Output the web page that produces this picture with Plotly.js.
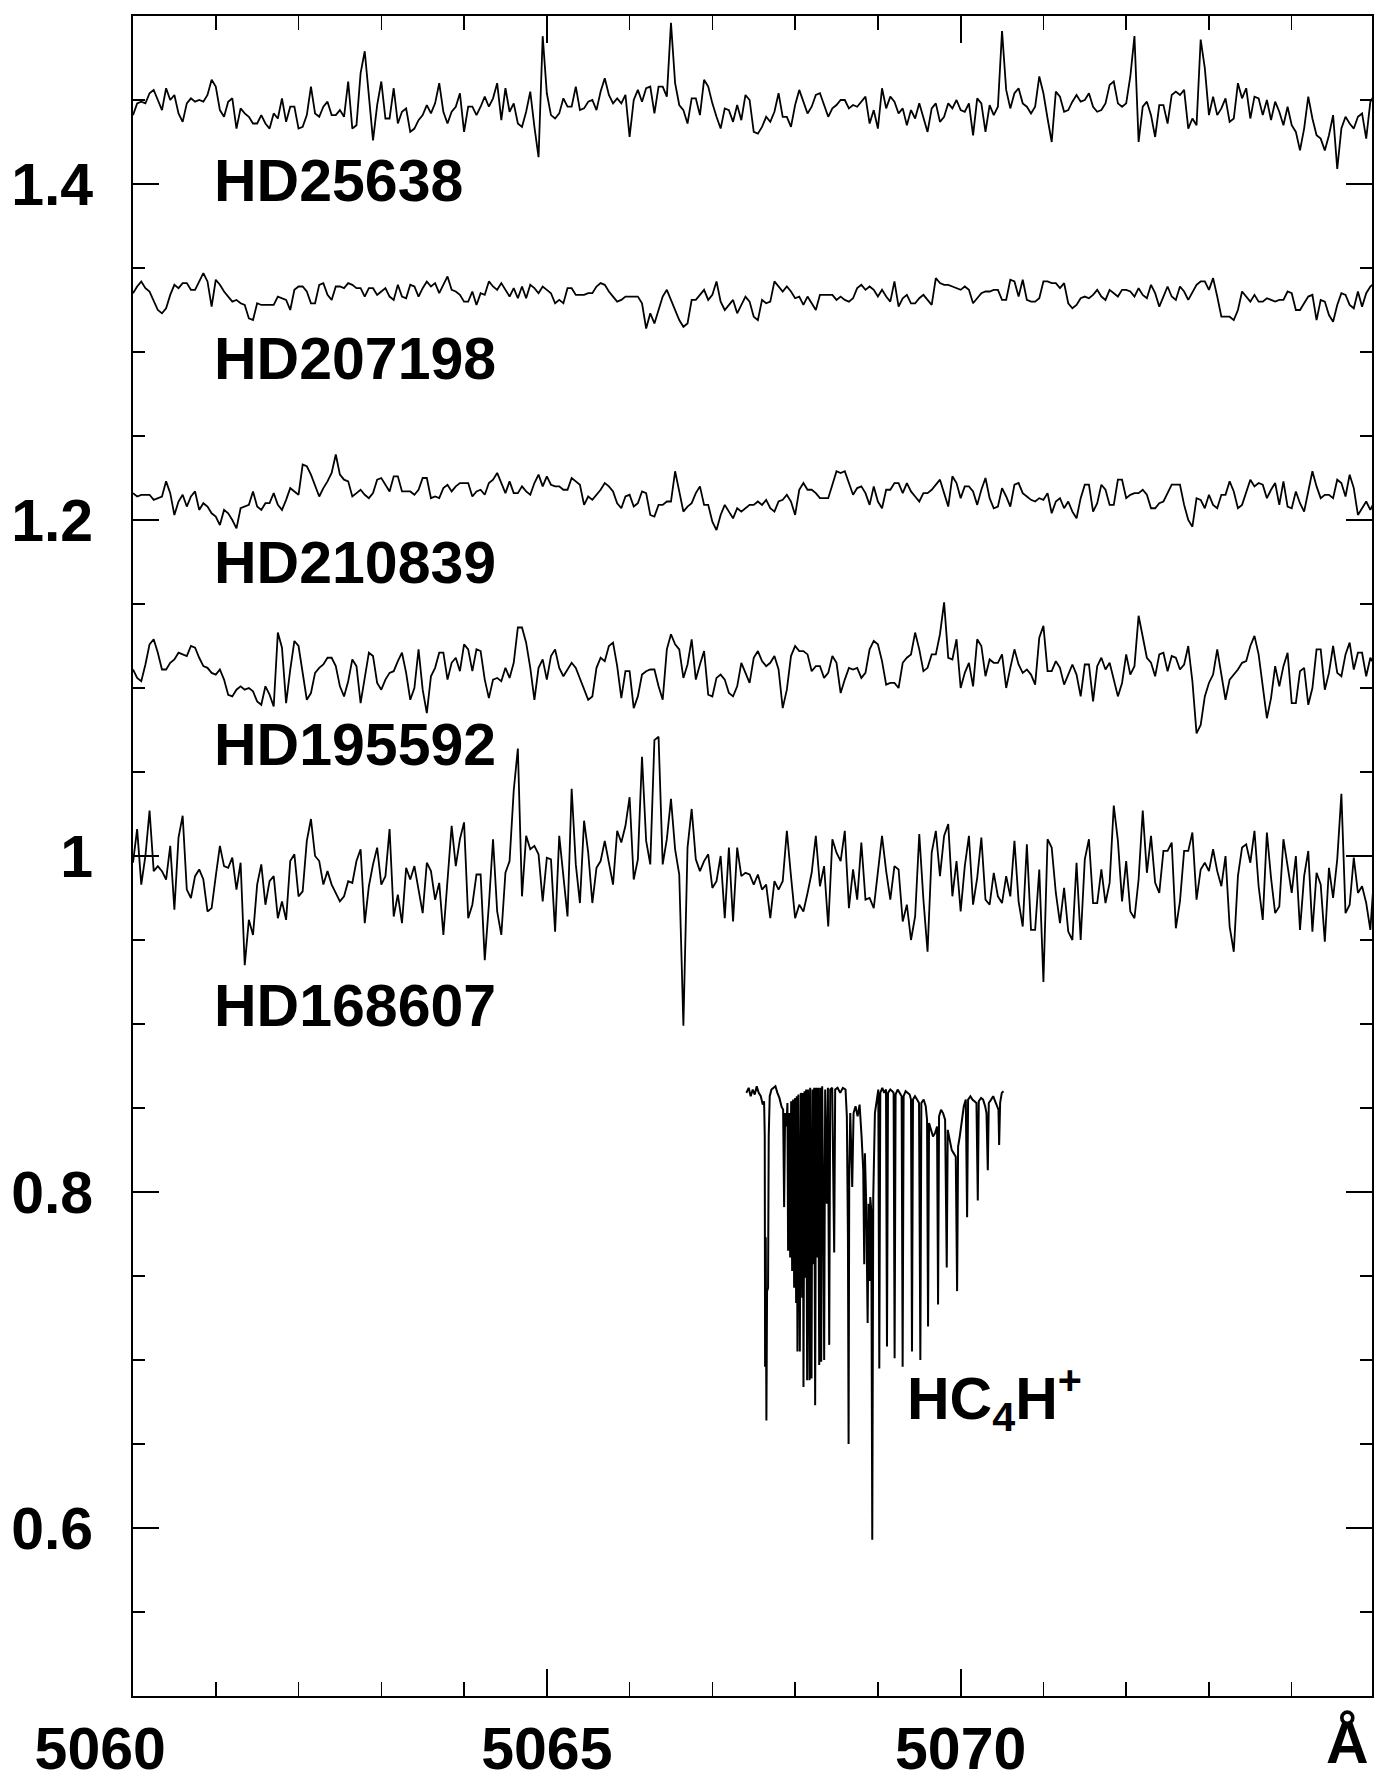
<!DOCTYPE html>
<html><head><meta charset="utf-8">
<script src="https://cdn.plot.ly/plotly-3.0.1.min.js"></script>
<style>html,body{margin:0;padding:0;background:#fff}#chart{width:1386px;height:1778px}</style>
</head><body><div id="chart"></div>
<script>
// Wavelength coverage of the stellar spectra (Angstrom), evenly sampled
const wavelengthStart = 5060, wavelengthEnd = 5075;

const starNames = ['HD25638', 'HD207198', 'HD210839', 'HD195592', 'HD168607'];
const starOffsets = [0.45, 0.34, 0.22, 0.11, 0.0];

const fluxHD25638 = [
0.991,0.998,0.999,0.998,1.004,1.006,1.000,0.994,1.007,1.000,
1.003,0.992,0.987,0.998,1.001,0.999,1.000,0.999,1.003,1.012,
1.008,0.994,0.990,0.999,1.001,0.983,0.995,0.992,0.990,0.986,
0.986,0.991,0.986,0.983,0.992,0.989,1.001,0.987,0.996,0.996,
0.983,0.984,0.991,1.008,0.992,0.990,0.996,0.999,0.991,0.991,
0.994,0.990,1.011,0.983,0.985,1.016,1.029,1.001,0.976,0.997,
1.011,0.989,0.989,1.007,0.986,0.993,0.995,0.981,0.983,0.988,
0.991,0.997,0.992,0.998,1.010,0.993,0.986,0.993,0.996,1.004,
0.981,0.996,0.996,0.991,0.996,1.002,0.996,1.001,1.010,0.988,
1.007,0.993,0.998,0.986,0.984,0.993,1.005,0.984,0.966,1.038,
1.004,0.991,0.989,0.992,1.001,0.996,0.996,1.008,0.994,0.995,
0.999,1.000,0.994,1.005,1.013,1.003,0.998,1.001,0.998,1.003,
0.978,1.000,1.006,0.999,1.007,1.008,0.992,1.008,1.008,1.002,
1.046,1.010,0.997,0.994,0.986,1.001,1.001,0.991,1.012,1.008,
0.998,0.990,0.983,0.995,0.994,0.987,0.997,0.988,1.003,1.000,
0.981,0.980,
0.984,0.990,0.987,0.993,1.004,0.990,0.990,0.984,0.997,1.006,
0.999,0.992,0.996,1.003,1.004,0.997,0.990,0.995,0.997,1.000,
1.000,0.995,0.997,0.996,0.999,1.002,0.986,0.994,0.983,1.007,
0.995,1.002,0.999,0.992,0.995,0.985,0.994,0.989,0.998,0.990,
0.981,0.995,0.998,0.987,0.990,0.998,0.995,1.000,0.994,0.993,
0.998,0.979,1.001,0.998,0.981,0.997,0.991,0.996,1.041,1.006,
0.995,1.004,1.007,0.998,0.996,0.992,0.996,1.014,1.004,0.989,
0.975,1.005,1.002,0.993,0.994,0.999,1.003,0.999,1.000,1.004,
0.996,0.993,0.994,0.998,1.009,1.011,0.998,0.996,0.998,1.014,
1.038,0.975,0.996,0.999,0.991,0.978,0.997,0.997,0.986,1.003,
1.005,1.003,1.006,0.983,0.989,0.985,1.036,1.019,0.991,1.002,
0.991,0.995,1.001,0.987,0.989,1.010,1.001,1.007,0.989,1.002,
1.001,0.991,1.000,0.988,0.999,0.993,0.985,0.996,0.985,0.981,
0.970,0.983,1.002,0.989,0.979,0.977,0.970,0.979,0.991,0.959,
0.983,0.990,0.986,0.983,0.990,0.992,0.977,0.999,1.003];

const fluxHD207198 = [
0.995,0.999,1.002,0.998,0.996,0.991,0.985,0.983,0.986,0.994,
1.000,0.998,1.001,1.001,0.997,0.997,1.002,1.007,1.002,0.987,
1.003,1.000,0.996,0.993,0.990,0.991,0.989,0.988,0.980,0.979,
0.989,0.988,0.988,0.988,0.988,0.993,0.992,0.991,0.985,0.997,
0.999,0.999,0.996,0.989,0.989,1.000,1.001,0.994,0.991,0.999,
0.999,0.998,1.001,1.000,0.998,0.998,0.993,0.998,0.998,0.994,
0.996,0.998,0.993,0.991,1.000,0.993,0.992,1.000,0.999,0.993,
0.998,1.002,0.999,1.001,0.995,1.000,1.005,
0.997,0.996,
0.994,0.990,0.990,0.996,0.988,0.995,0.994,1.002,0.999,0.997,
1.001,0.997,0.993,0.998,0.992,0.999,0.992,1.000,0.998,0.995,
0.999,0.997,0.995,0.989,0.991,0.989,0.998,0.998,0.994,0.994,
0.994,0.995,
0.995,0.999,1.001,1.000,0.996,0.993,0.990,
0.991,0.993,0.993,0.993,0.993,0.989,
0.974,0.983,0.977,
0.985,0.993,0.997,0.991,0.986,0.979,0.975,0.977,0.991,0.991,
0.994,0.997,0.991,0.994,1.002,0.990,0.985,0.988,0.991,
0.983,0.988,0.993,0.990,0.981,0.979,
0.991,0.989,0.990,1.002,0.999,0.996,0.999,0.996,0.992,0.993,
0.988,0.993,0.989,0.985,0.994,0.994,0.994,0.994,0.991,0.993,
0.991,0.990,0.992,0.998,1.000,0.997,0.999,0.997,0.993,0.997,
0.993,0.990,1.002,0.987,0.992,0.994,0.989,0.989,0.992,0.994,
0.991,0.988,1.004,1.001,1.000,1.000,0.999,0.998,0.997,0.999,
0.997,0.989,0.992,0.995,0.996,0.996,0.997,0.997,0.991,0.991,
1.003,1.002,0.993,1.003,0.991,0.990,0.990,0.992,1.002,1.002,
1.001,1.001,0.998,1.001,0.989,0.986,0.988,0.992,0.993,0.992,
0.994,0.997,0.993,0.991,0.997,0.995,0.993,0.997,0.997,0.996,
0.993,0.998,0.994,0.992,1.000,0.995,0.987,0.993,0.999,0.993,
0.991,0.999,0.996,0.991,0.996,1.000,1.002,1.002,0.997,1.004,
0.993,0.981,0.981,0.981,0.979,0.985,0.996,0.993,0.990,0.994,
0.990,0.990,0.992,0.991,0.990,0.991,0.991,0.996,0.995,0.985,
0.985,0.989,0.993,0.994,0.979,0.991,
0.990,0.982,0.978,0.988,0.995,0.994,0.988,0.986,0.996,0.987,0.995,
0.999,1.001];

const fluxHD210839 = [
0.996,0.994,
0.995,0.995,0.995,0.992,0.993,0.994,1.003,
0.996,0.983,0.991,0.995,0.988,0.994,0.997,0.986,0.990,0.988,
0.984,0.982,0.977,0.986,0.984,0.980,0.975,0.987,0.988,0.989,
0.997,0.988,0.986,0.990,0.990,0.996,0.989,0.986,0.992,0.999,
0.997,0.995,1.013,1.012,1.007,1.000,0.994,0.999,1.003,1.008,
1.019,1.007,1.004,1.003,0.994,0.996,0.998,0.995,0.993,0.996,
1.004,1.005,1.001,0.997,1.006,1.006,0.997,0.997,0.997,0.995,
0.998,1.005,1.005,0.993,0.994,0.993,0.999,1.001,0.997,1.000,
1.002,1.002,1.002,0.994,0.997,0.998,0.995,1.002,1.004,1.008,
1.002,0.996,1.003,0.996,0.996,1.000,
0.997,0.995,1.002,
1.007,1.000,1.006,1.001,1.000,
1.000,0.998,0.998,1.005,
1.003,1.001,0.989,0.994,0.992,0.995,0.998,1.002,1.000,0.997,
0.990,0.987,0.994,0.995,0.988,0.990,0.997,0.996,0.983,0.982,
0.989,0.989,0.991,0.991,1.009,0.997,0.985,0.988,0.990,0.996,
1.000,0.989,0.989,0.979,0.974,0.983,0.989,0.985,0.981,0.987,
0.985,0.987,0.989,0.989,0.991,
0.989,0.992,0.987,0.985,0.991,0.992,0.995,0.991,0.983,0.998,
1.002,0.998,0.998,0.996,0.993,0.993,
0.993,1.001,1.009,
1.008,1.009,1.002,0.995,0.999,1.000,0.996,0.989,1.000,0.991,
0.987,0.998,0.998,1.002,1.002,0.996,1.002,0.997,0.994,0.991,
0.996,0.996,0.998,1.001,1.004,0.996,0.988,1.006,1.002,0.993,
1.000,1.000,0.997,0.989,0.998,1.005,0.993,0.987,0.988,0.999,
0.994,0.988,1.001,1.002,0.996,0.994,0.992,0.991,0.993,0.992,
0.996,0.984,0.991,0.993,0.987,0.991,0.985,0.981,0.993,1.001,
1.001,0.985,0.990,1.001,0.998,0.989,0.989,1.004,1.004,0.993,
0.995,0.996,0.996,0.998,0.995,0.987,0.987,0.990,0.991,0.996,
1.001,1.001,1.001,0.989,0.980,0.976,0.993,0.992,0.987,0.995,
0.989,0.987,0.995,0.995,1.003,0.997,0.987,0.989,0.996,1.004,
1.000,1.002,1.001,0.993,0.998,1.002,0.989,1.003,0.988,0.987,
0.997,0.990,0.985,0.998,1.009,1.000,0.993,0.995,0.995,0.993,
1.004,1.002,0.994,
1.007,0.999,0.983,0.987,0.991,0.986,0.991];

const fluxHD195592 = [
1.001,0.996,0.994,1.004,1.016,1.019,1.011,1.001,1.001,1.005,
1.007,1.011,1.010,1.009,1.015,1.014,1.008,1.003,1.002,0.999,
0.998,1.001,0.995,0.986,0.985,0.989,0.991,0.989,0.990,0.988,
0.982,0.980,0.991,0.986,0.979,1.023,1.014,0.981,1.001,1.018,
1.015,0.998,0.983,0.987,0.999,1.002,1.004,1.008,1.008,1.003,
0.991,0.985,0.994,1.007,1.003,0.981,0.997,1.011,1.009,0.993,
0.989,0.995,0.999,1.000,1.006,1.011,0.999,0.983,0.990,1.013,
0.989,0.975,0.997,1.002,1.011,1.011,0.995,1.005,1.008,1.000,
1.016,1.013,1.000,1.013,1.012,0.995,0.984,0.995,0.996,0.994,
1.002,0.996,1.005,1.026,1.026,1.017,1.002,0.983,1.002,1.007,
0.995,1.009,1.013,1.002,0.997,1.001,1.005,1.002,0.996,0.989,
0.983,0.985,1.002,1.008,1.006,1.015,1.017,1.003,0.984,1.000,
1.000,0.978,0.985,0.998,1.000,1.001,1.001,0.991,0.983,1.013,
1.022,1.016,1.013,0.996,1.004,1.019,0.995,1.004,1.012,0.986,
0.985,0.996,0.998,0.995,0.987,0.985,0.991,1.005,0.999,0.993,
1.008,1.012,
1.006,1.003,1.005,1.009,1.001,0.978,0.989,1.009,1.015,1.012,
1.012,1.010,1.000,1.003,1.003,0.996,0.999,1.009,1.005,0.987,
0.995,1.002,1.001,1.002,0.996,0.999,1.013,1.018,1.016,1.006,
0.992,0.993,0.993,0.990,1.005,1.008,1.010,1.023,1.013,1.000,
1.002,1.010,1.010,1.022,1.041,1.008,1.007,1.019,0.990,0.999,
1.005,0.991,1.019,1.015,0.997,1.007,1.005,1.005,1.010,0.990,
1.002,1.013,1.004,0.999,1.001,0.998,0.992,1.020,1.027,1.000,
1.000,1.006,1.002,0.992,0.998,1.004,0.998,0.985,1.004,1.004,
0.982,1.003,1.008,1.001,1.005,0.994,0.985,0.993,1.010,0.998,
1.003,1.033,1.020,1.008,1.005,0.997,1.010,1.011,1.000,1.009,
1.008,1.001,1.004,1.015,0.994,0.963,0.968,0.985,0.993,0.998,
1.013,0.998,0.983,0.995,0.998,1.001,1.005,1.006,1.015,1.021,
1.010,0.990,0.972,0.984,1.003,0.991,1.003,1.011,0.981,0.981,
1.000,1.002,0.980,0.990,1.013,1.013,0.989,0.999,1.015,0.999,
0.997,1.010,1.017,1.001,1.011,1.011,0.997,1.008,1.004];

const fluxHD168607 = [
0.996,1.016,0.983,1.000,1.027,0.991,0.994,0.991,0.986,1.006,
0.968,1.011,1.024,0.980,0.975,0.988,0.992,0.986,0.967,0.969,
0.988,1.006,0.994,0.993,0.999,0.980,0.996,0.935,0.962,0.953,
0.983,0.995,0.971,0.985,0.988,0.963,0.973,0.962,0.997,1.001,
0.976,0.979,1.009,1.022,1.000,0.997,0.983,0.991,0.983,0.978,
0.973,0.976,0.985,0.984,0.997,1.004,0.960,0.982,0.995,1.005,
0.983,0.988,1.016,0.964,0.977,0.960,0.993,0.986,0.994,0.980,
0.966,0.996,0.991,0.974,0.984,0.953,0.983,1.018,0.994,1.010,
1.020,0.963,0.971,0.989,0.989,0.938,0.971,1.010,0.967,0.953,
0.990,0.997,1.039,1.064,0.976,1.012,1.004,1.006,1.001,0.973,
0.999,0.998,0.955,1.012,0.988,0.964,1.040,0.995,0.972,1.021,
1.002,0.972,0.993,0.997,1.009,0.997,0.983,1.015,1.008,1.018,
1.035,0.986,0.998,1.059,1.009,0.995,1.069,1.071,0.995,1.010,
1.034,1.004,0.989,0.899,1.005,1.028,0.998,0.991,0.997,1.001,
0.981,0.985,1.000,0.963,1.005,0.961,1.005,0.988,0.990,0.989,
0.983,0.989,
0.980,0.983,0.963,0.985,0.980,0.985,1.015,0.988,0.963,0.971,
0.967,0.978,0.990,1.012,0.982,0.994,0.958,1.010,1.002,0.997,
1.015,0.969,0.992,0.974,1.008,0.974,0.975,0.969,0.990,1.012,
0.991,0.974,0.994,0.992,0.961,0.971,0.950,0.964,1.013,0.974,
0.943,1.002,1.015,0.988,1.012,1.019,0.976,0.997,0.967,0.994,
1.012,0.971,0.987,1.011,0.974,0.971,0.990,0.976,0.972,0.988,
0.976,1.009,0.973,0.958,1.007,0.956,0.956,0.992,0.925,1.010,
1.005,0.978,0.960,0.981,0.955,0.950,0.996,0.950,0.998,1.010,
0.972,0.972,0.992,0.972,0.984,1.030,1.009,0.973,0.997,0.967,
0.963,0.986,1.027,0.990,1.012,0.984,0.978,1.003,1.003,1.008,
0.957,0.973,1.003,1.003,1.014,0.974,0.992,0.996,0.991,1.004,
0.991,0.982,1.000,0.958,0.943,0.988,1.005,1.007,0.996,1.015,
0.982,0.962,1.014,0.987,0.966,0.970,1.010,0.995,0.978,1.000,
0.956,0.988,1.003,0.955,0.990,0.983,0.949,0.993,0.975,0.998,
1.037,0.966,0.971,0.999,0.978,0.982,0.972,0.956,0.992];

const starFluxes = [fluxHD25638, fluxHD207198, fluxHD210839, fluxHD195592, fluxHD168607];

// Laboratory spectrum of HC4H+ (wavelength in Angstrom, relative flux)
const hc4hLabel = 'HC<sub>4</sub>H<sup>+</sup>';
const hc4hOffset = -0.14;
const hc4hWavelength = [
5067.411,5067.439,5067.463,5067.488,5067.512,5067.536,5067.560,5067.585,5067.609,5067.625,
5067.633,5067.637,5067.645,5067.653,5067.661,5067.673,5067.681,5067.693,5067.714,5067.738,
5067.762,5067.786,5067.810,5067.835,5067.855,5067.867,5067.879,5067.895,5067.907,5067.915,
5067.927,5067.940,5067.952,5067.964,5067.976,5067.988,5068.000,5068.012,5068.020,5068.028,
5068.040,5068.057,5068.069,5068.085,5068.093,5068.101,5068.113,5068.125,5068.133,5068.145,
5068.157,5068.174,5068.182,5068.198,5068.210,5068.222,5068.230,5068.242,5068.254,5068.270,
5068.278,5068.291,5068.303,5068.315,5068.327,5068.343,5068.351,5068.363,5068.383,5068.396,
5068.412,5068.424,5068.448,5068.472,5068.484,5068.513,5068.545,5068.577,5068.609,5068.625,
5068.638,5068.646,5068.654,5068.666,5068.690,5068.706,5068.730,5068.755,5068.779,5068.803,
5068.823,5068.835,5068.843,5068.859,5068.876,5068.888,5068.900,5068.908,5068.920,5068.932,
5068.944,5068.964,5068.989,5069.005,5069.017,5069.029,5069.053,5069.077,5069.098,5069.110,
5069.122,5069.150,5069.174,5069.190,5069.202,5069.214,5069.239,5069.263,5069.287,5069.299,
5069.311,5069.335,5069.360,5069.384,5069.400,5069.412,5069.424,5069.448,5069.473,5069.497,
5069.513,5069.525,5069.553,5069.578,5069.594,5069.606,5069.618,5069.642,5069.666,5069.690,
5069.715,5069.727,5069.739,5069.763,5069.787,5069.812,5069.832,5069.844,5069.868,5069.892,
5069.917,5069.941,5069.957,5069.969,5069.989,5070.013,5070.038,5070.062,5070.078,5070.090,
5070.118,5070.142,5070.166,5070.191,5070.207,5070.219,5070.247,5070.271,5070.296,5070.312,
5070.328,5070.340,5070.368,5070.393,5070.417,5070.441,5070.457,5070.465,5070.477,5070.497,
5070.518];
const hc4hFlux = [
0.999,1.002,0.997,1.001,0.998,1.003,0.999,0.997,0.992,0.994,
0.973,0.836,0.913,0.804,0.881,0.883,0.973,0.997,1.001,1.002,
1.003,0.999,0.996,0.991,0.989,0.931,0.987,0.979,0.993,0.905,
0.987,0.901,0.994,0.893,0.995,0.883,0.996,0.874,0.997,0.845,
0.998,0.845,0.999,0.877,0.999,0.824,1.000,0.889,1.001,0.828,
1.001,0.828,1.002,0.829,1.001,0.897,1.002,0.813,1.002,0.901,
1.002,0.837,1.002,0.839,1.003,0.913,0.840,1.001,0.933,1.002,
0.849,1.001,1.002,0.904,1.001,1.002,0.999,1.002,1.001,0.985,
0.913,0.790,0.953,0.987,0.943,0.987,0.991,0.985,0.992,0.973,
0.953,0.897,0.963,0.933,0.862,0.933,0.887,0.937,0.929,0.733,
0.937,0.987,0.997,1.001,0.835,0.999,1.002,0.999,1.001,0.848,
0.999,1.001,1.000,0.999,0.841,0.998,1.001,0.999,0.997,0.836,
0.997,1.000,0.999,0.998,0.995,0.845,0.995,0.997,0.995,0.993,
0.840,0.993,0.995,0.991,0.983,0.860,0.981,0.977,0.973,0.975,
0.979,0.873,0.985,0.989,0.987,0.983,0.895,0.977,0.971,0.965,
0.963,0.961,0.881,0.967,0.973,0.983,0.991,0.995,0.925,0.995,
0.997,0.995,0.994,0.993,0.935,0.994,0.996,0.995,0.991,0.987,
0.953,0.993,0.995,0.997,0.994,0.991,0.989,0.968,0.993,0.999,
1.000];

const xMajorTicks = [5060, 5065, 5070];
const xMajorTickText = ['5060\u00a0\u00a0\u00a0\u00a0', '5065', '5070'];
const wavelengthUnit = 'Å';

function wavelengthGrid(n) {
  const step = (wavelengthEnd - wavelengthStart) / (n - 1);
  return Array.from({length: n}, (_, i) => wavelengthStart + i * step);
}

const traces = starFluxes.map((flux, k) => ({
  type: 'scatter', mode: 'lines', name: starNames[k],
  x: wavelengthGrid(flux.length),
  y: flux.map(v => v + starOffsets[k]),
  line: {color: '#000', width: 1.8},
  hoverinfo: 'skip'
}));
traces.push({
  type: 'scatter', mode: 'lines', name: 'HC4H+',
  x: hc4hWavelength,
  y: hc4hFlux.map(v => v + hc4hOffset),
  line: {color: '#000', width: 2},
  hoverinfo: 'skip'
});

const FONT = 'Liberation Sans, Arial, Helvetica, sans-serif';
const labelFont = {family: FONT, size: 59, color: '#000', weight: 'bold'};
const starLabelY = [1.4015, 1.2957, 1.1742, 1.0662, 0.9109];

const annotations = starNames.map((name, k) => ({
  text: name, x: 5060.95, y: starLabelY[k], xref: 'x', yref: 'y',
  xanchor: 'left', yanchor: 'middle', showarrow: false, font: labelFont
}));
annotations.push({
  text: hc4hLabel, x: 5069.33, y: 0.677, xref: 'x', yref: 'y',
  xanchor: 'left', yanchor: 'middle', showarrow: false, font: labelFont
});
annotations.push({
  text: wavelengthUnit, x: 5074.67, y: -0.028, xref: 'x', yref: 'paper',
  xanchor: 'center', yanchor: 'middle', showarrow: false, font: labelFont
});

const layout = {
  width: 1386, height: 1778,
  margin: {l: 133, r: 14, t: 16, b: 82, pad: 0},
  paper_bgcolor: '#fff', plot_bgcolor: '#fff',
  showlegend: false,
  xaxis: {
    range: [5060, 5074.97],
    tickmode: 'array', tickvals: xMajorTicks, ticktext: xMajorTickText,
    ticks: 'inside', ticklen: 27, tickwidth: 2, tickcolor: '#000',
    minor: {ticks: 'inside', dtick: 1, tick0: 5060, ticklen: 14, tickwidth: 1.5, tickcolor: '#000', showgrid: false},
    showline: true, linewidth: 2, linecolor: '#000', mirror: 'ticks',
    showgrid: false, zeroline: false,
    tickfont: labelFont, ticklabelstandoff: 0
  },
  yaxis: {
    range: [0.5, 1.5],
    tickmode: 'linear', tick0: 0, dtick: 0.2,
    ticks: 'inside', ticklen: 26, tickwidth: 2, tickcolor: '#000',
    minor: {ticks: 'inside', dtick: 0.05, tick0: 0, ticklen: 12, tickwidth: 1.5, tickcolor: '#000', showgrid: false},
    showline: true, linewidth: 2, linecolor: '#000', mirror: 'ticks',
    showgrid: false, zeroline: false,
    tickfont: labelFont, ticklabelstandoff: 26
  },
  annotations: annotations
};

Plotly.newPlot('chart', traces, layout, {displayModeBar: false, staticPlot: true});
</script>
</body></html>
